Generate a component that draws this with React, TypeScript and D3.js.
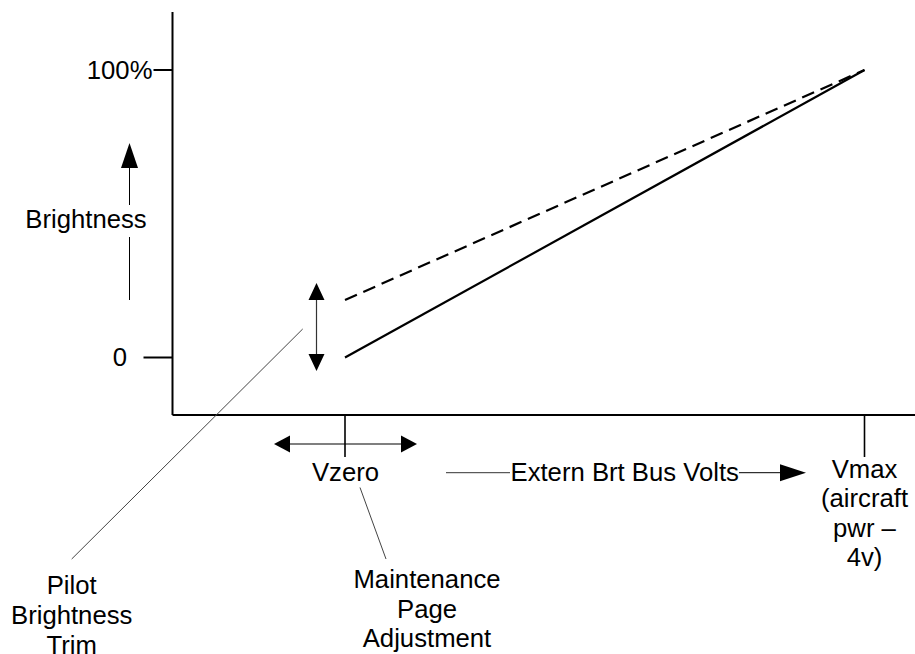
import { useEffect, useRef } from 'react';
import * as d3 from 'd3';

// values
const voltPoints = ['Vzero', 'Vmax'];
const voltValues = [0, 1];
const defaultBrightness = [0, 100];
const trimmedBrightness = [20, 100];
const yTickValues = [0, 100];
const yTickLabels = ['0', '100%'];
const vmaxLabel = ['Vmax', '(aircraft', 'pwr \u2013', '4v)'];
const pilotLabel = ['Pilot', 'Brightness', 'Trim'];
const maintLabel = ['Maintenance', 'Page', 'Adjustment'];

const W = 915;
const H = 654;
const FONT = '"Liberation Sans", Arial, sans-serif';

// filled triangle with its tip at (x, y), pointing along angle
function arrowHead(g: any, x: number, y: number, angle: number, len: number, wid: number) {
  const c = Math.cos(angle), s = Math.sin(angle);
  const bx = x - c * len, by = y - s * len;
  const pts = [
    [x, y],
    [bx - s * wid / 2, by + c * wid / 2],
    [bx + s * wid / 2, by - c * wid / 2],
  ];
  g.append('path').attr('d', d3.line()(pts as any) + 'Z').attr('fill', '#000');
}

const App = () => {
  const chartRef = useRef<SVGSVGElement>(null);

  useEffect(() => {
    const svg = d3.select(chartRef.current);
    svg.selectAll('*').remove();

    const x = d3.scaleLinear().domain([0, 1]).range([345, 864.5]);
    const y = d3.scaleLinear().domain([0, 100]).range([357.5, 70]);

    const originX = 172.5;
    const axisY = 415;

    const g = svg.append('g')
      .style('font-family', FONT)
      .style('font-size', '25.7px')
      .attr('fill', '#000');

    // axes
    g.append('line')
      .attr('x1', originX).attr('x2', originX)
      .attr('y1', 12).attr('y2', axisY)
      .attr('stroke', '#000').attr('stroke-width', 2);
    g.append('line')
      .attr('x1', originX).attr('x2', W)
      .attr('y1', axisY).attr('y2', axisY)
      .attr('stroke', '#000').attr('stroke-width', 2);

    // y ticks
    const tickLen = [29, 19];
    yTickValues.forEach((v, i) => {
      g.append('line')
        .attr('x1', originX - tickLen[i]).attr('x2', originX)
        .attr('y1', y(v)).attr('y2', y(v))
        .attr('stroke', '#000').attr('stroke-width', 2);
      g.append('text')
        .attr('x', i === 0 ? 127 : 152.5)
        .attr('y', y(v) + 8.5)
        .attr('text-anchor', 'end')
        .text(yTickLabels[i]);
    });

    // x ticks
    voltValues.forEach(v => {
      g.append('line')
        .attr('x1', x(v)).attr('x2', x(v))
        .attr('y1', axisY).attr('y2', axisY + 42)
        .attr('stroke', '#000').attr('stroke-width', 1.6);
    });

    // brightness lines
    const line = d3.line<number>()
      .x((d, i) => x(voltValues[i]))
      .y(d => y(d));

    g.append('path')
      .datum(defaultBrightness)
      .attr('fill', 'none')
      .attr('stroke', '#000')
      .attr('stroke-width', 2.2)
      .attr('d', line);

    g.append('path')
      .datum(trimmedBrightness)
      .attr('fill', 'none')
      .attr('stroke', '#000')
      .attr('stroke-width', 2.2)
      .attr('stroke-dasharray', '13 7')
      .attr('d', line);

    // Brightness label with arrow
    g.append('text')
      .attr('x', 86).attr('y', 228)
      .attr('text-anchor', 'middle')
      .text('Brightness');
    g.append('line')
      .attr('x1', 129.5).attr('x2', 129.5)
      .attr('y1', 300).attr('y2', 237)
      .attr('stroke', '#000').attr('stroke-width', 1);
    g.append('line')
      .attr('x1', 129.5).attr('x2', 129.5)
      .attr('y1', 205).attr('y2', 165)
      .attr('stroke', '#000').attr('stroke-width', 1);
    arrowHead(g, 129.5, 143, -Math.PI / 2, 25, 17);

    // trim arrow (vertical, at Vzero)
    const trimX = x(0) - 28.5;
    g.append('line')
      .attr('x1', trimX).attr('x2', trimX)
      .attr('y1', 295).attr('y2', 359)
      .attr('stroke', '#333').attr('stroke-width', 1.2);
    arrowHead(g, trimX, 283, -Math.PI / 2, 17, 16);
    arrowHead(g, trimX, 371, Math.PI / 2, 17, 16);

    // maintenance arrow (horizontal, at Vzero)
    g.append('line')
      .attr('x1', 285).attr('x2', 405)
      .attr('y1', 444).attr('y2', 444)
      .attr('stroke', '#000').attr('stroke-width', 1.2);
    arrowHead(g, 274, 444, Math.PI, 16, 17);
    arrowHead(g, 417, 444, 0, 16, 17);

    // x labels
    g.append('text')
      .attr('x', x(0) + 0.5).attr('y', 481)
      .attr('text-anchor', 'middle')
      .text(voltPoints[0]);

    const vmax = g.append('text')
      .attr('text-anchor', 'middle');
    vmaxLabel.forEach((t, i) => {
      vmax.append('tspan')
        .attr('x', x(1)).attr('y', 478 + i * 29.3)
        .text(t);
    });

    // axis title with arrow
    g.append('line')
      .attr('x1', 446).attr('x2', 510)
      .attr('y1', 472.7).attr('y2', 472.7)
      .attr('stroke', '#333').attr('stroke-width', 1);
    const title = g.append('text')
      .attr('x', 510.5).attr('y', 481)
      .text('Extern Brt Bus Volts');
    const tEnd = 510.5 + ((title.node() as SVGTextElement).getComputedTextLength?.() || 230);
    g.append('line')
      .attr('x1', tEnd).attr('x2', 784)
      .attr('y1', 472.7).attr('y2', 472.7)
      .attr('stroke', '#000').attr('stroke-width', 1);
    arrowHead(g, 806, 472.7, 0, 26, 17);

    // callouts
    g.append('line')
      .attr('x1', 302.7).attr('y1', 329)
      .attr('x2', 71.7).attr('y2', 559)
      .attr('stroke', '#444').attr('stroke-width', 1);
    const pilot = g.append('text').attr('text-anchor', 'middle');
    pilotLabel.forEach((t, i) => {
      pilot.append('tspan').attr('x', 71.7).attr('y', 594 + i * 30).text(t);
    });

    g.append('line')
      .attr('x1', 360).attr('y1', 487.5)
      .attr('x2', 386).attr('y2', 559)
      .attr('stroke', '#444').attr('stroke-width', 1);
    const maint = g.append('text').attr('text-anchor', 'middle');
    maintLabel.forEach((t, i) => {
      maint.append('tspan').attr('x', 427).attr('y', 588 + i * 29.5).text(t);
    });
  }, []);

  return (
    <svg
      ref={chartRef}
      width={W}
      height={H}
      style={{ position: 'absolute', left: 0, top: 0, display: 'block', background: '#fff' }}
    />
  );
};

export default App;
